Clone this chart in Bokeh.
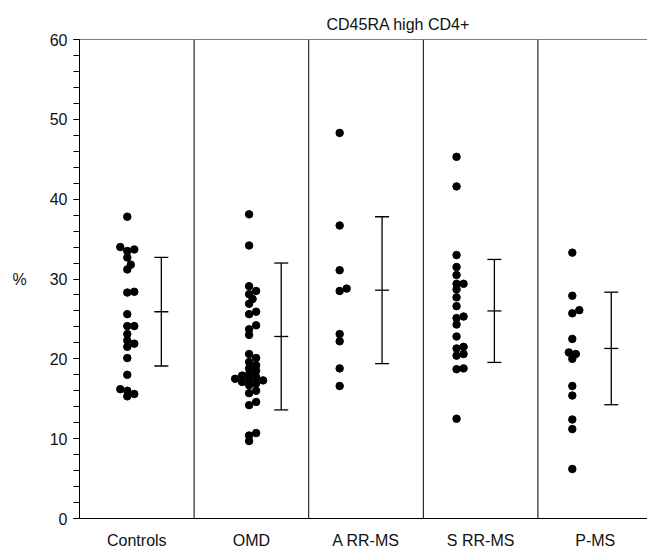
from bokeh.plotting import figure
from bokeh.models import Span, Whisker, ColumnDataSource, FixedTicker, TeeHead
from bokeh.embed import file_html
from bokeh.resources import INLINE

groups = ["Controls", "OMD", "A RR-MS", "S RR-MS", "P-MS"]

controls = [37.8, 34.0, 33.7, 33.5, 32.7, 31.8, 31.2, 28.4, 28.3, 25.6, 24.1, 24.1,
            23.1, 22.3, 21.9, 21.5, 20.1, 18.0, 16.2, 16.0, 15.6, 15.3]
omd = [38.1, 34.2, 29.1, 28.5, 28.1, 27.5, 26.9, 25.9, 25.6, 24.2, 23.7, 23.0,
       20.6, 20.1, 19.6, 19.2, 18.8, 18.5, 18.1, 17.9, 17.7, 17.5, 17.4, 17.3,
       17.1, 16.9, 16.7, 16.0, 15.7, 14.6, 14.2, 10.7, 10.4, 9.7]
a_rr_ms = [48.3, 36.7, 31.1, 28.8, 28.5, 23.1, 22.2, 18.8, 16.6]
s_rr_ms = [45.3, 41.6, 33.0, 31.5, 30.5, 29.4, 29.4, 28.7, 27.7, 26.6, 25.3, 25.1,
           24.3, 22.8, 21.5, 21.3, 20.6, 20.4, 18.8, 18.7, 12.5]
p_ms = [33.3, 27.9, 26.1, 25.7, 22.5, 20.8, 20.6, 20.0, 16.6, 15.4, 12.4, 11.2, 6.2]

means = [25.9, 22.8, 28.6, 26.0, 21.3]
sds = [6.8, 9.2, 9.2, 6.45, 7.05]

series = [controls, omd, a_rr_ms, s_rr_ms, p_ms]

# layout (positions within each group, in group-width units)
dot_center = [-0.083, -0.02, -0.23, -0.21, -0.20]
bar_offset = [0.214, 0.26, 0.14, 0.12, 0.14]

PX_X = 114.6
PX_Y = 7.98
MIN_D = 5.5


def swarm(vals, center):
    placed = []
    xs = [0.0] * len(vals)
    order = sorted(range(len(vals)), key=lambda i: vals[i])
    cands = [0.0]
    for k in range(1, 12):
        cands += [3.5 * k, -3.5 * k]
    for i in order:
        y = vals[i] * PX_Y
        for c in cands:
            if all(((c - px) ** 2 + (y - py) ** 2) ** 0.5 >= MIN_D for px, py in placed):
                break
        placed.append((c, y))
        xs[i] = center + c / PX_X
    return xs


p = figure(width=647, height=551, x_range=(0, 4.956), y_range=(0, 60),
           output_backend="svg", toolbar_location=None,
           min_border_left=79, min_border_right=0, min_border_top=39,
           min_border_bottom=32)

p.outline_line_color = None
p.grid.visible = False
p.background_fill_color = "white"
p.border_fill_color = "white"

FONT = "Liberation Sans"

p.title.text = "CD45RA high CD4+"
p.title.align = "left"
p.title.offset = 247
p.title.vertical_align = "top"
p.title.text_font = FONT
p.title.text_font_size = "16px"
p.title.text_font_style = "normal"
p.title.text_color = "#111111"

# y axis
ya = p.yaxis[0]
ya.ticker = FixedTicker(ticks=list(range(0, 61, 10)), minor_ticks=list(range(0, 61, 2)))
ya.major_tick_out = 6
ya.major_tick_in = 0
ya.minor_tick_out = 6
ya.minor_tick_in = 0
ya.major_tick_line_color = "black"
ya.minor_tick_line_color = "black"
ya.axis_line_color = "black"
ya.major_label_text_font = FONT
ya.major_label_text_font_size = "16px"
ya.major_label_text_color = "#111111"
ya.major_label_standoff = 6
ya.axis_label = "%"
ya.axis_label_orientation = "horizontal"
ya.axis_label_text_font = FONT
ya.axis_label_text_font_size = "16px"
ya.axis_label_text_font_style = "normal"
ya.axis_label_text_color = "#111111"
ya.axis_label_standoff = 20

# x axis
xa = p.xaxis[0]
xa.ticker = FixedTicker(ticks=[i + 0.5 for i in range(len(groups))], minor_ticks=[])
xa.major_label_overrides = {i + 0.5: g for i, g in enumerate(groups)}
xa.major_tick_line_color = None
xa.minor_tick_line_color = None
xa.axis_line_color = "black"
xa.major_label_text_font = FONT
xa.major_label_text_font_size = "16px"
xa.major_label_text_color = "#111111"
xa.major_label_standoff = 7

# top border and group dividers
p.add_layout(Span(location=60, dimension="width", line_color="black", line_width=1))
for i in range(1, len(groups)):
    p.add_layout(Span(location=i, dimension="height", line_color="black", line_width=1))

# dots
for gi, vals in enumerate(series):
    xs = swarm(vals, gi + 0.5 + dot_center[gi])
    p.scatter(xs, vals, size=7.5, color="black", marker="circle")

# mean +/- SD bars
bx = [i + 0.5 + bar_offset[i] for i in range(len(groups))]
src = ColumnDataSource(data=dict(
    x=bx,
    mean=means,
    lower=[m - s for m, s in zip(means, sds)],
    upper=[m + s for m, s in zip(means, sds)],
))
w = Whisker(base="x", upper="upper", lower="lower", source=src, dimension="height",
            line_color="black", line_width=1.3,
            upper_head=TeeHead(size=14, line_color="black", line_width=1.3),
            lower_head=TeeHead(size=14, line_color="black", line_width=1.3))
p.add_layout(w)
p.scatter("x", "mean", source=src, marker="dash", size=14, line_color="black",
          line_width=1.3)

open("out.html", "w").write(file_html(p, INLINE))
